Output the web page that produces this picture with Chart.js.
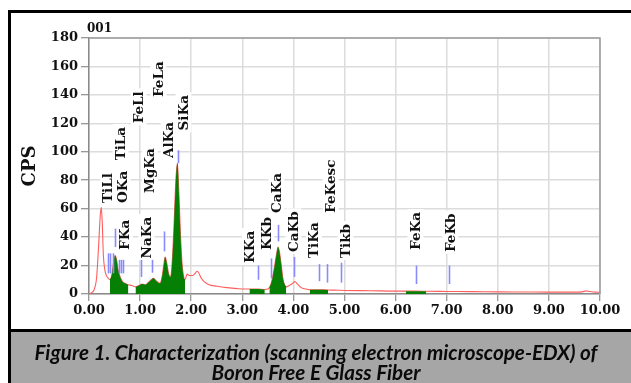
<!DOCTYPE html>
<html><head><meta charset="utf-8">
<script src="https://cdn.jsdelivr.net/npm/chart.js@4.4.1/dist/chart.umd.min.js"></script>
<style>
html,body{margin:0;padding:0;background:#fff;width:631px;height:383px;overflow:hidden;}
#c{position:absolute;left:0;top:0;}
.blk{position:absolute;background:#000;}
#cap{position:absolute;left:11px;top:332px;width:620px;height:51px;background:#a6a6a6;}
.capline{position:absolute;left:0;width:632px;text-align:center;font-family:Lato,"Open Sans",sans-serif;font-weight:bold;font-style:italic;color:#0a0a0a;white-space:nowrap;line-height:1;}
</style></head>
<body>
<canvas id="c" width="631" height="330"></canvas>
<div class="blk" style="left:8px;top:10px;width:623px;height:3px"></div>
<div class="blk" style="left:8px;top:10px;width:3px;height:373px"></div>
<div class="blk" style="left:8px;top:329px;width:623px;height:3px"></div>
<div id="cap"></div>
<div id="cap1" class="capline" style="top:342px">Figure 1. Characterization (scanning electron microscope-EDX) of</div>
<div id="cap2" class="capline" style="top:362px">Boron Free E Glass Fiber</div>
<script>
// ---- data ----
const energy = [0.00,0.05,0.10,0.15,0.19,0.22,0.24,0.26,0.28,0.31,0.34,0.38,0.41,0.45,0.48,0.51,0.54,0.57,0.61,0.65,0.70,0.77,0.84,0.91,0.98,1.04,1.10,1.16,1.22,1.26,1.32,1.39,1.43,1.47,1.49,1.52,1.56,1.59,1.62,1.66,1.70,1.73,1.76,1.79,1.82,1.86,1.88,1.92,1.97,2.03,2.12,2.20,2.26,2.35,2.50,2.70,2.90,3.05,3.14,3.30,3.44,3.50,3.53,3.57,3.62,3.67,3.70,3.73,3.76,3.80,3.86,3.92,3.97,4.03,4.08,4.15,4.25,4.32,4.50,4.68,4.80,5.00,5.50,6.00,6.20,6.40,6.60,7.00,7.50,8.00,8.50,9.00,9.50,9.65,9.72,9.80,9.90,10.00];
const cps    = [0,1,3,12,35,55,61,50,28,17,13,11,10,14,22,27,24,17,12,9,7.5,6.5,6,5,6,7,6.5,8,10,11,9,7.5,12,22,26,22,14,12,18,45,80,92,70,42,22,11,10,14,13,13,16,11,8.5,6.5,5.5,4.5,3.8,3.5,3.5,3.5,3.2,3.5,4.5,8,17,28,33,29,21,10,5,6,7,8.7,7,4.5,3.5,3,3,2.8,2.7,2.5,2.3,2.0,2.0,2.0,1.9,1.8,1.7,1.5,1.4,1.3,1.3,1.5,2.2,1.8,1.3,1.2];
const fitStart = [0.41,0.91,3.14,3.53,4.32,6.20];
const fitEnd   = [0.77,1.88,3.44,3.86,4.68,6.60];
const markerEnergy = [0.38,0.42,0.46,0.50,0.59,0.63,0.67,1.02,1.24,1.47,1.735,3.30,3.57,3.69,4.01,4.50,4.65,4.93,6.40,7.05];
const markerLow    = [14.5,14.5,14.5,33,14.5,14.5,14.5,12,15,30,92,10,11,37,12,9,8,8,7,7];
const markerHigh   = [28.6,28.6,28.6,46,24,24,24,24,24,44,101,20,25,48.6,26,21,21,22,20,20];
const labelNames  = ["TiLl","TiLa","OKa","FKa","FeLl","MgKa","NaKa","FeLa","AlKa","SiKa","KKa","KKb","CaKa","CaKb","TiKa","FeKesc","Tikb","FeKa","FeKb"];
const labelEnergy = [0.37,0.62,0.66,0.70,0.97,1.19,1.125,1.36,1.56,1.85,3.15,3.47,3.67,4.00,4.40,4.73,5.02,6.39,7.07];
const labelCps    = [64,94,64,31,120,71,25,138.5,95.6,115,21.8,31,57,29.5,25.3,57,25.3,31,29.5];
const xTickValues = [0,1,2,3,4,5,6,7,8,9,10];
const yTickValues = [0,20,40,60,80,100,120,140,160,180];
const chartTag = "001";
const yTitle = "CPS";

// ---- caption sizing ----
(function(){
  const m = document.createElement('canvas').getContext('2d');
  m.font = 'italic bold 100px Lato';
  const w = m.measureText(document.getElementById('cap1').textContent).width;
  const fs = 100*563/w;
  document.getElementById('cap1').style.fontSize = fs+'px';
  document.getElementById('cap2').style.fontSize = fs+'px';
})();

const spectrum = energy.map((e,i)=>({x:e,y:cps[i]}));
const datasets = [{
  type:'line', data:spectrum, borderColor:'rgba(255,85,85,0.95)', borderWidth:1.1,
  pointRadius:0, fill:false, cubicInterpolationMode:'monotone', order:2
}];
fitStart.forEach((s,k)=>{
  datasets.push({type:'line', data:spectrum.filter(p=>p.x>=s-1e-9 && p.x<=fitEnd[k]+1e-9),
    borderColor:'rgba(0,0,0,0)', borderWidth:0, backgroundColor:'#058005',
    pointRadius:0, fill:'origin', cubicInterpolationMode:'monotone', order:1});
});

const FONT = '"DejaVu Serif", serif';
const LFONT = 'bold 13.5px '+FONT;

const decor = {
  id:'decor',
  beforeDatasetsDraw(chart){
    const {ctx, scales:{x,y}} = chart;
    ctx.save();
    ctx.font = LFONT;
    ctx.fillStyle = '#fff';
    labelNames.forEach((t,i)=>{
      const px = x.getPixelForValue(labelEnergy[i]);
      const py = y.getPixelForValue(labelCps[i]);
      const w = ctx.measureText(t).width;
      ctx.fillRect(px-8, py-w-3, 16, w+5);
    });
    ctx.restore();
  },
  afterDatasetsDraw(chart){
    const {ctx, chartArea:a, scales:{x,y}} = chart;
    ctx.save();
    // markers
    ctx.strokeStyle = '#8a8aff';
    ctx.lineWidth = 1.6;
    markerEnergy.forEach((e,i)=>{
      const px = Math.round(x.getPixelForValue(e))+0.5;
      ctx.beginPath();
      ctx.moveTo(px, y.getPixelForValue(markerLow[i]));
      ctx.lineTo(px, y.getPixelForValue(markerHigh[i]));
      ctx.stroke();
    });
    // labels
    ctx.font = LFONT;
    ctx.fillStyle = '#111';
    ctx.textAlign = 'left';
    ctx.textBaseline = 'middle';
    labelNames.forEach((t,i)=>{
      const px = x.getPixelForValue(labelEnergy[i]);
      const py = y.getPixelForValue(labelCps[i]);
      ctx.save();
      ctx.translate(px+1, py);
      ctx.rotate(-Math.PI/2);
      ctx.fillText(t, 0, 0);
      ctx.restore();
    });
    // top/right frame
    ctx.strokeStyle = '#9a9a9a';
    ctx.lineWidth = 1.5;
    ctx.beginPath();
    ctx.moveTo(a.left, a.top); ctx.lineTo(a.right, a.top); ctx.lineTo(a.right, a.bottom);
    ctx.stroke();
    // tag and y title
    ctx.fillStyle = '#111';
    ctx.font = 'bold 12px '+FONT;
    ctx.textBaseline = 'alphabetic';
    ctx.fillText(chartTag, 87, 32);
    ctx.font = 'bold 18px '+FONT;
    ctx.textAlign = 'center';
    ctx.textBaseline = 'middle';
    ctx.translate(30, 166);
    ctx.rotate(-Math.PI/2);
    ctx.fillText(yTitle, 0, 0);
    ctx.restore();
  }
};

new Chart(document.getElementById('c'), {
  data:{datasets},
  options:{
    responsive:false, animation:false, devicePixelRatio:1,
    layout:{padding:{left:0,top:38,right:31,bottom:0}},
    plugins:{legend:{display:false}, tooltip:{enabled:false}},
    scales:{
      x:{type:'linear', min:0, max:10,
        afterBuildTicks(s){ s.ticks = xTickValues.map(v=>({value:v})); },
        afterFit(s){ s.height = 36; },
        ticks:{callback:v=>v.toFixed(2), color:'#111', font:{family:'DejaVu Serif', weight:'bold', size:13}, padding:2, maxRotation:0, autoSkip:false},
        grid:{color:'#dcdcdc', lineWidth:1.5, tickColor:'#777', tickLength:7, tickWidth:1},
        border:{color:'#8a8a8a', width:1.5}
      },
      y:{type:'linear', min:0, max:180,
        afterBuildTicks(s){ s.ticks = yTickValues.map(v=>({value:v})); },
        afterFit(s){ s.width = 89; },
        ticks:{color:'#111', font:{family:'DejaVu Serif', weight:'bold', size:13}, padding:3},
        grid:{color:'#dcdcdc', lineWidth:1.5, tickColor:'#777', tickLength:8, tickWidth:1},
        border:{color:'#8a8a8a', width:1.5}
      }
    }
  },
  plugins:[decor]
});
</script>
</body></html>
